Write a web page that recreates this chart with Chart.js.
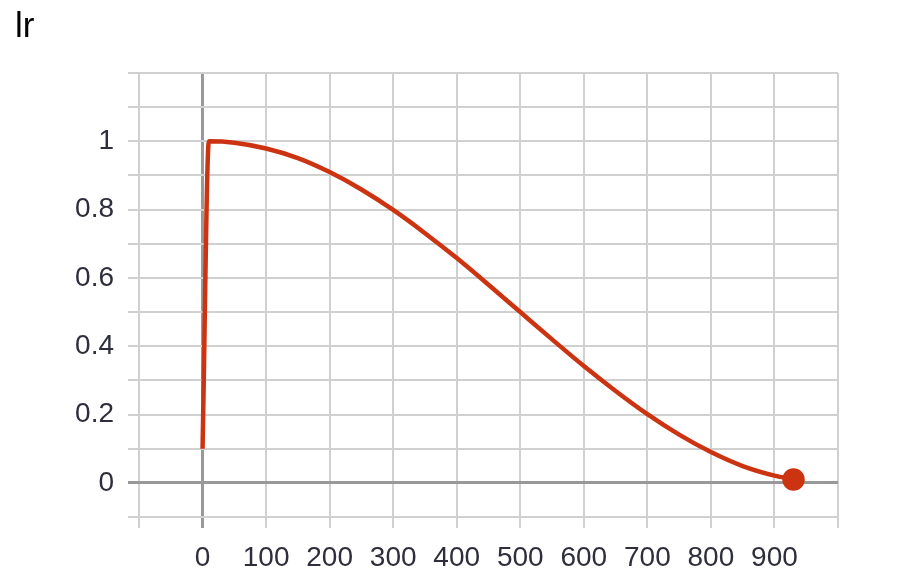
<!DOCTYPE html>
<html>
<head>
<meta charset="utf-8">
<script src="https://cdn.jsdelivr.net/npm/chart.js@4"></script>
<style>
  html, body { margin: 0; padding: 0; background: #fff; }
  #wrap { width: 899px; height: 580px; }
</style>
</head>
<body>
<div id="wrap"><canvas id="grafica-lr"></canvas></div>
<script>
// valores (paso, lr)
const pasos = [0, 10, 50, 100, 150, 200, 250, 300, 350, 400, 450, 500, 550, 600, 650, 700, 750, 800, 850, 900, 930];
const valoresLr = [0.1, 1.0, 0.996, 0.979, 0.951, 0.910, 0.859, 0.799, 0.731, 0.658, 0.580, 0.500, 0.420, 0.342, 0.269, 0.201, 0.141, 0.090, 0.049, 0.021, 0.01];
const etiquetasX = [0, 100, 200, 300, 400, 500, 600, 700, 800, 900];
const etiquetasY = [0, 0.2, 0.4, 0.6, 0.8, 1];

const COLOR_LINEA = '#cc3311';
const COLOR_TEXTO = '#2e2e3c';
const FUENTE = 'Liberation Sans';

const puntos = pasos.map((p, i) => ({ x: p, y: valoresLr[i] }));

function colorGrid(ctx) {
    return ctx.tick && ctx.tick.value === 0 ? '#999999' : '#d0d0d0';
}
function anchoGrid(ctx) {
    return ctx.tick && ctx.tick.value === 0 ? 3 : 2;
}

const ctx = document.getElementById('grafica-lr').getContext('2d');
new Chart(ctx, {
    type: 'line',
    data: {
        datasets: [{
            data: puntos,
            borderColor: COLOR_LINEA,
            backgroundColor: COLOR_LINEA,
            borderWidth: 4.5,
            cubicInterpolationMode: 'monotone',
            pointRadius: puntos.map((_, i) => i === puntos.length - 1 ? 9 : 0),
            pointHoverRadius: 0,
            fill: false
        }]
    },
    options: {
        responsive: true,
        maintainAspectRatio: false,
        animation: false,
        layout: { padding: { left: 15, right: 61, top: 0, bottom: 0 } },
        plugins: {
            legend: { display: false },
            tooltip: { enabled: false },
            title: {
                display: true,
                text: 'lr',
                align: 'start',
                color: '#000',
                font: { family: FUENTE, size: 35, weight: 'normal' },
                padding: { top: 6, bottom: 25 }
            }
        },
        scales: {
            x: {
                type: 'linear',
                min: -100,
                max: 1000,
                border: { display: false },
                grid: { color: colorGrid, lineWidth: anchoGrid, tickLength: 11 },
                ticks: {
                    stepSize: 100,
                    autoSkip: false,
                    maxRotation: 0,
                    padding: 13,
                    color: COLOR_TEXTO,
                    font: { family: FUENTE, size: 28 },
                    callback: v => etiquetasX.includes(v) ? String(v) : ''
                },
                afterFit: s => { s.height = 63; }
            },
            y: {
                type: 'linear',
                min: -0.1,
                max: 1.2,
                border: { display: false },
                grid: { color: colorGrid, lineWidth: anchoGrid, tickLength: 11 },
                ticks: {
                    stepSize: 0.1,
                    autoSkip: false,
                    padding: 14,
                    color: COLOR_TEXTO,
                    font: { family: FUENTE, size: 28 },
                    callback: v => {
                        const r = Math.round(v * 10) / 10;
                        return etiquetasY.includes(r) ? String(r) : '';
                    }
                },
                afterFit: s => { s.width = 124; }
            }
        }
    }
});
</script>
</body>
</html>
